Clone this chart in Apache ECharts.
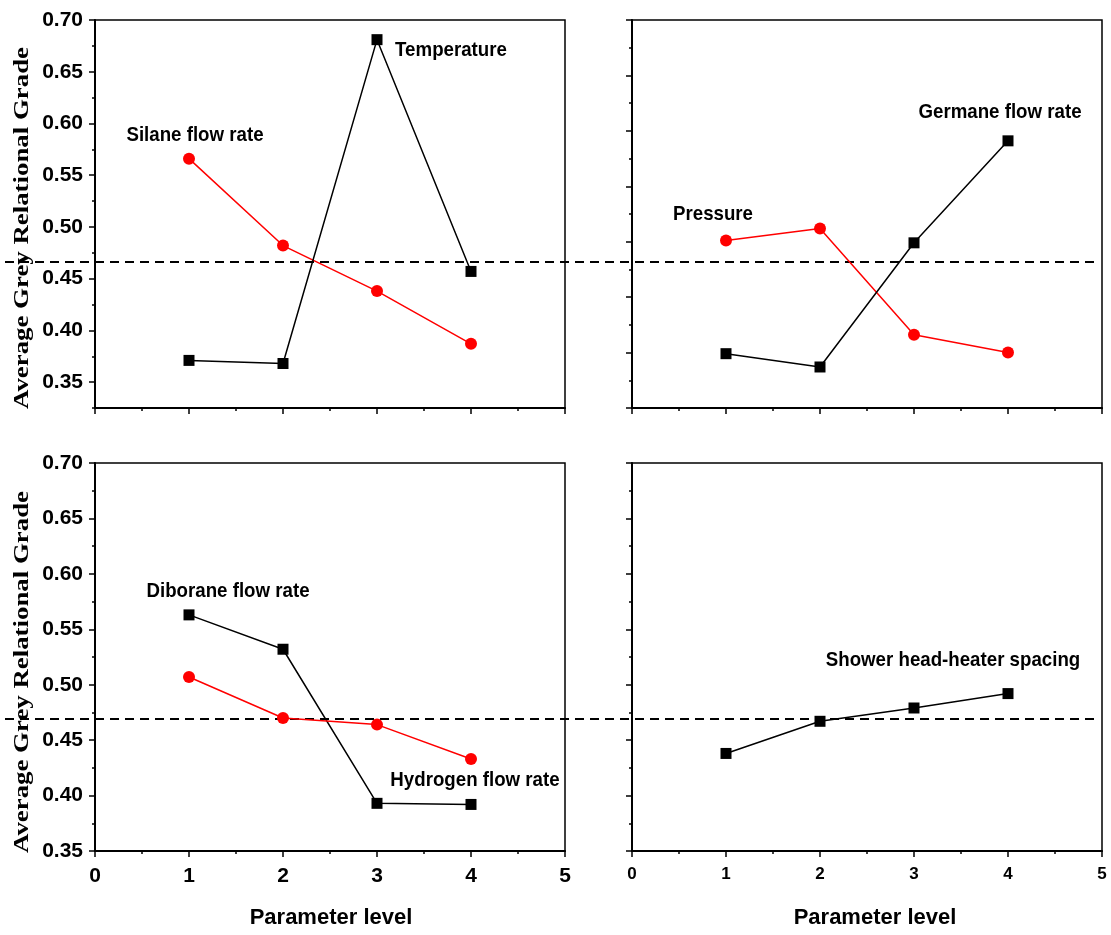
<!DOCTYPE html>
<html>
<head>
<meta charset="utf-8">
<script src="https://cdn.jsdelivr.net/npm/echarts@6/dist/echarts.min.js"></script>
<style>html,body{margin:0;padding:0;background:#fff;}#c{width:1111px;height:935px;}</style>
</head>
<body>
<div id="c"></div>
<script>
// ---- data ----
const levels = [1, 2, 3, 4];
const silane = [0.566, 0.482, 0.438, 0.387];
const temperature = [0.371, 0.368, 0.681, 0.457];
const pressure = [0.501, 0.512, 0.416, 0.400];
const germane = [0.399, 0.387, 0.499, 0.591];
const diborane = [0.563, 0.532, 0.393, 0.392];
const hydrogen = [0.507, 0.470, 0.464, 0.433];
const shower = [0.438, 0.467, 0.479, 0.492];
const meanTop = 0.466;
const meanBottom = 0.469;
const yTickLabels = [0.35, 0.40, 0.45, 0.50, 0.55, 0.60, 0.65, 0.70];
const xTickLabels = [0, 1, 2, 3, 4, 5];

const chart = echarts.init(document.getElementById('c'), null, {renderer: 'canvas'});
const FONT = 'Liberation Sans, Arial, sans-serif';
const BLACK = '#000';
const RED = '#ff0000';

function pts(arr) { return levels.map((x, i) => [x, arr[i]]); }

function grid(left, top) {
  return {left: left, top: top, width: 470, height: 388, show: true,
    borderColor: BLACK, borderWidth: 1.5, backgroundColor: 'transparent', containLabel: false};
}
function xAx(gi, showLabel, fs, margin) {
  return {type: 'value', gridIndex: gi, min: xTickLabels[0], max: xTickLabels[xTickLabels.length - 1], interval: 1,
    axisLine: {show: true, onZero: false, lineStyle: {color: BLACK, width: 2}},
    axisTick: {show: true, inside: false, length: 6, lineStyle: {color: BLACK, width: 1.5}},
    minorTick: {show: true, splitNumber: 2, length: 3, lineStyle: {color: BLACK, width: 1.5}},
    splitLine: {show: false}, minorSplitLine: {show: false},
    axisLabel: {show: showLabel, color: BLACK, fontFamily: FONT, fontWeight: 'bold', fontSize: fs, margin: margin}};
}
function yAx(gi, min, showLabel) {
  return {type: 'value', gridIndex: gi, min: min, max: 0.70, interval: 0.05, position: 'left',
    axisLine: {show: true, onZero: false, lineStyle: {color: BLACK, width: 2}},
    axisTick: {show: true, inside: false, length: 6, lineStyle: {color: BLACK, width: 1.5}},
    minorTick: {show: true, splitNumber: 2, length: 3, lineStyle: {color: BLACK, width: 1.5}},
    splitLine: {show: false}, minorSplitLine: {show: false},
    axisLabel: {show: showLabel, color: BLACK, fontFamily: FONT, fontWeight: 'bold', fontSize: 21, margin: 12,
      formatter: v => v.toFixed(2)}};
}
function lineSeries(name, arr, xi, yi, color, symbol, size) {
  return {name: name, type: 'line', xAxisIndex: xi, yAxisIndex: yi, data: pts(arr),
    symbol: symbol, symbolSize: size, showSymbol: true,
    itemStyle: {color: color}, lineStyle: {color: color, width: 1.5}, z: 5, animation: false};
}
function dashSeries(val, xi, yi) {
  return {type: 'line', xAxisIndex: xi, yAxisIndex: yi, data: [[0, val], [1, val]], symbol: 'none',
    lineStyle: {color: BLACK, width: 2, type: [9, 6]}, z: 3, animation: false, silent: true};
}
function note(text, x, y) {
  return {type: 'text', x: x, y: y, scaleX: 0.89, z: 10,
    style: {text: text, font: 'bold 21px ' + FONT, fill: BLACK, textAlign: 'center', textVerticalAlign: 'middle'}};
}
function yTitle(y) {
  return {type: 'text', x: 22, y: y, rotation: Math.PI / 2, scaleX: 1.22, z: 10,
    style: {text: 'Average Grey Relational Grade', font: 'bold 22px Liberation Serif, Times New Roman, serif',
      fill: BLACK, textAlign: 'center', textVerticalAlign: 'middle'}};
}
function xTitle(x, y) {
  return {type: 'text', x: x, y: y, z: 10,
    style: {text: 'Parameter level', font: 'bold 22px ' + FONT, fill: BLACK, textAlign: 'center', textVerticalAlign: 'middle'}};
}

const tlMain = yAx(0, 0.325, false);
tlMain.interval = 0.025;
tlMain.axisTick.length = 3;
tlMain.minorTick = {show: false};
const tlMajor = {type: 'value', gridIndex: 0, min: 0.325, max: 0.70, interval: 0.025, position: 'left', offset: 0,
  axisLine: {show: false},
  axisTick: {show: true, inside: false, length: 6, customValues: yTickLabels, lineStyle: {color: BLACK, width: 1.5}},
  splitLine: {show: false},
  axisLabel: {show: true, customValues: yTickLabels, color: BLACK, fontFamily: FONT, fontWeight: 'bold', fontSize: 21, margin: 12,
    formatter: v => Number(v).toFixed(2)}};

const option = {
  backgroundColor: '#fff',
  animation: false,
  grid: [grid(95, 20), grid(632, 20), grid(95, 463), grid(632, 463),
    {left: 5, top: 20, width: 1095, height: 388, show: false},
    {left: 5, top: 463, width: 1093, height: 388, show: false}],
  xAxis: [xAx(0, false, 21, 14), xAx(1, false, 17, 14), xAx(2, true, 21, 15), xAx(3, true, 17, 15),
    {type: 'value', gridIndex: 4, min: 0, max: 1, show: false},
    {type: 'value', gridIndex: 5, min: 0, max: 1, show: false}],
  yAxis: [tlMain, yAx(1, 0.35, false), yAx(2, 0.35, true), yAx(3, 0.35, false),
    {type: 'value', gridIndex: 4, min: 0.325, max: 0.70, show: false},
    {type: 'value', gridIndex: 5, min: 0.35, max: 0.70, show: false},
    tlMajor],
  series: [
    dashSeries(meanTop, 4, 4),
    dashSeries(meanBottom, 5, 5),
    lineSeries('Silane flow rate', silane, 0, 0, RED, 'circle', 12),
    lineSeries('Temperature', temperature, 0, 0, BLACK, 'rect', 11),
    lineSeries('Pressure', pressure, 1, 1, RED, 'circle', 12),
    lineSeries('Germane flow rate', germane, 1, 1, BLACK, 'rect', 11),
    lineSeries('Diborane flow rate', diborane, 2, 2, BLACK, 'rect', 11),
    lineSeries('Hydrogen flow rate', hydrogen, 2, 2, RED, 'circle', 12),
    lineSeries('Shower head-heater spacing', shower, 3, 3, BLACK, 'rect', 11)
  ],
  graphic: [
    note('Silane flow rate', 195, 135),
    note('Temperature', 451, 50),
    note('Germane flow rate', 1000, 112),
    note('Pressure', 713, 214),
    note('Diborane flow rate', 228, 591),
    note('Hydrogen flow rate', 475, 780),
    note('Shower head-heater spacing', 953, 660),
    yTitle(228), yTitle(672),
    xTitle(331, 918), xTitle(875, 918)
  ]
};
chart.setOption(option);
</script>
</body>
</html>
